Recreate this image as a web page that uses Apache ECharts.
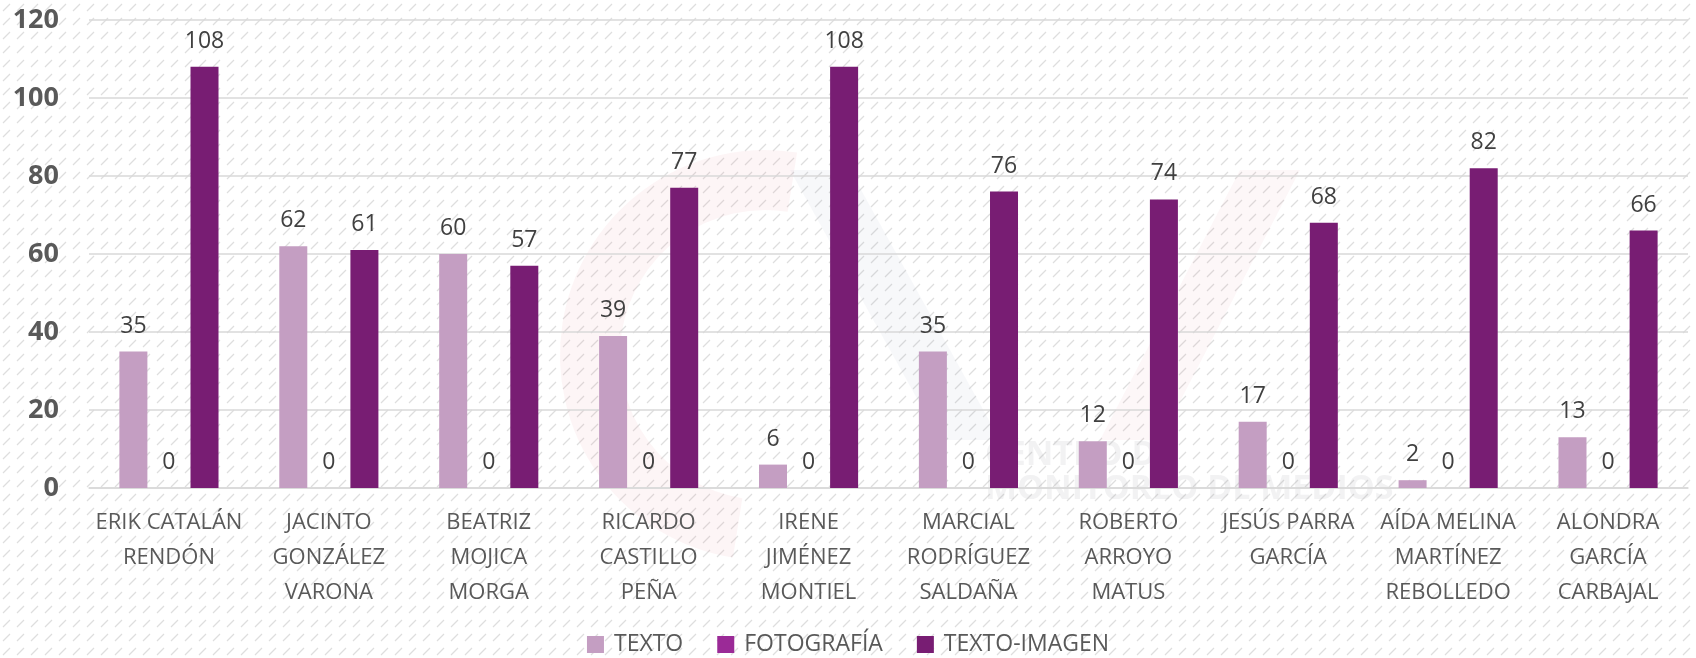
<!DOCTYPE html>
<html>
<head>
<meta charset="utf-8">
<script src="https://cdn.jsdelivr.net/npm/echarts@6/dist/echarts.min.js"></script>
<style>
  html, body { margin: 0; padding: 0; background: #fff; }
  #main { width: 1696px; height: 658px; }
</style>
</head>
<body>
<div id="main"></div>
<script>
var categories = [
  'ERIK CATALÁN\nRENDÓN', 'JACINTO\nGONZÁLEZ\nVARONA', 'BEATRIZ\nMOJICA\nMORGA',
  'RICARDO\nCASTILLO\nPEÑA', 'IRENE\nJIMÉNEZ\nMONTIEL', 'MARCIAL\nRODRÍGUEZ\nSALDAÑA',
  'ROBERTO\nARROYO\nMATUS', 'JESÚS PARRA\nGARCÍA', 'AÍDA MELINA\nMARTÍNEZ\nREBOLLEDO',
  'ALONDRA\nGARCÍA\nCARBAJAL'
];
var texto = [35, 62, 60, 39, 6, 35, 12, 17, 2, 13];
var fotografia = [0, 0, 0, 0, 0, 0, 0, 0, 0, 0];
var textoImagen = [108, 61, 57, 77, 108, 76, 74, 68, 82, 66];

// fondo rayado
var pat = document.createElement('canvas');
pat.width = 14; pat.height = 14;
var ctx = pat.getContext('2d');
ctx.fillStyle = '#ffffff';
ctx.fillRect(0, 0, 14, 14);
ctx.strokeStyle = '#dedede';
ctx.lineWidth = 1.3;
ctx.beginPath();
ctx.moveTo(3, 11);
ctx.lineTo(10, 4);
ctx.stroke();

var myChart = echarts.init(document.getElementById('main'));

var lbl = {
  show: true,
  position: 'top',
  distance: 14,
  color: '#404040',
  fontSize: 23,
  fontFamily: 'Open Sans'
};

option = {
  backgroundColor: { image: pat, repeat: 'repeat' },
  animation: false,
  graphic: [
    {
      type: 'arc', left: 560, top: 150, silent: true, z: -1,
      shape: { cx: 0, cy: 0, r: 175, startAngle: Math.PI * 0.55, endAngle: Math.PI * 1.55 },
      style: { stroke: 'rgba(220,120,130,0.07)', lineWidth: 60, fill: null }
    },
    {
      type: 'polygon', silent: true, z: -1,
      shape: { points: [[790, 170], [850, 170], [1000, 440], [940, 440]] },
      style: { fill: 'rgba(120,130,170,0.06)' }
    },
    {
      type: 'polygon', silent: true, z: -1,
      shape: { points: [[1100, 440], [1240, 170], [1300, 170], [1160, 440]] },
      style: { fill: 'rgba(220,120,130,0.06)' }
    },
    {
      type: 'text', left: 985, top: 438, silent: true, z: -1,
      style: { text: 'CENTRO DE', fill: 'rgba(150,150,160,0.12)', font: 'bold 34px "Open Sans"' }
    },
    {
      type: 'text', left: 985, top: 472, silent: true, z: -1,
      style: { text: 'MONITOREO DE MEDIOS', fill: 'rgba(150,150,160,0.12)', font: 'bold 34px "Open Sans"' }
    }
  ],
  grid: { left: 89, right: 8, top: 20, bottom: 170 },
  legend: {
    top: 628,
    left: 'center',
    itemWidth: 17,
    itemHeight: 17,
    itemGap: 34,
    icon: 'rect',
    textStyle: { color: '#595959', fontSize: 23, fontFamily: 'Open Sans', padding: [0, 0, 0, 5] },
    data: ['TEXTO', 'FOTOGRAFÍA', 'TEXTO-IMAGEN']
  },
  xAxis: {
    type: 'category',
    data: categories,
    axisLine: { lineStyle: { color: '#d9d9d9', width: 1.5 } },
    axisTick: { show: false },
    axisLabel: {
      interval: 0,
      color: '#595959',
      fontSize: 22,
      lineHeight: 35,
      margin: 17,
      fontFamily: 'Open Sans'
    }
  },
  yAxis: {
    type: 'value',
    min: 0,
    max: 120,
    interval: 20,
    axisLine: { show: false },
    axisTick: { show: false },
    splitLine: { lineStyle: { color: '#d9d9d9', width: 1.5 } },
    axisLabel: {
      color: '#595959',
      fontSize: 27,
      fontWeight: 'bold',
      margin: 30,
      fontFamily: 'Open Sans'
    }
  },
  series: [
    {
      name: 'TEXTO', type: 'bar', data: texto, barWidth: 28, barGap: '27%',
      itemStyle: { color: '#c49ec2' }, label: lbl
    },
    {
      name: 'FOTOGRAFÍA', type: 'bar', data: fotografia, barWidth: 28, barGap: '27%',
      itemStyle: { color: '#9b2a97' }, label: lbl
    },
    {
      name: 'TEXTO-IMAGEN', type: 'bar', data: textoImagen, barWidth: 28, barGap: '27%',
      itemStyle: { color: '#781d73' }, label: lbl
    }
  ]
};

myChart.setOption(option);
</script>
</body>
</html>
